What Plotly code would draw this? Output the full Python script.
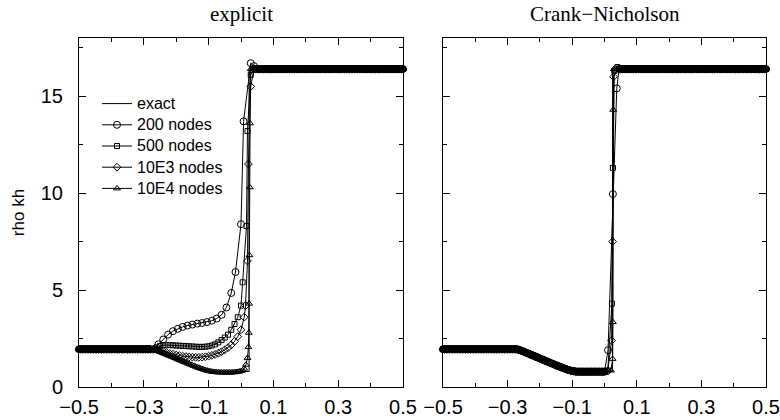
import plotly.graph_objects as go

# ---------------- data ----------------
# shared left state (all runs coincide there)
flat_left_x = [-0.5, -0.495, -0.49, -0.485, -0.48, -0.475, -0.47, -0.465, -0.46, -0.455,
               -0.45, -0.445, -0.44, -0.435, -0.43, -0.425, -0.42, -0.415, -0.41, -0.405,
               -0.4, -0.395, -0.39, -0.385, -0.38, -0.375, -0.37, -0.365, -0.36, -0.355,
               -0.35, -0.345, -0.34, -0.335, -0.33, -0.325, -0.32, -0.315, -0.31, -0.305,
               -0.3, -0.295, -0.29, -0.285, -0.28]
flat_left_y = [1.95, 1.95, 1.95, 1.95, 1.95, 1.95, 1.95, 1.95, 1.95, 1.95,
               1.95, 1.95, 1.95, 1.95, 1.95, 1.95, 1.95, 1.95, 1.95, 1.95,
               1.95, 1.95, 1.95, 1.95, 1.95, 1.95, 1.95, 1.95, 1.95, 1.95,
               1.95, 1.95, 1.95, 1.95, 1.95, 1.95, 1.95, 1.95, 1.95, 1.95,
               1.95, 1.95, 1.95, 1.95, 1.95]
# shared right state
flat_right_x = [0.045, 0.05, 0.055, 0.06, 0.065, 0.07, 0.075, 0.08, 0.085, 0.09,
                0.095, 0.1, 0.105, 0.11, 0.115, 0.12, 0.125, 0.13, 0.135, 0.14,
                0.145, 0.15, 0.155, 0.16, 0.165, 0.17, 0.175, 0.18, 0.185, 0.19,
                0.195, 0.2, 0.205, 0.21, 0.215, 0.22, 0.225, 0.23, 0.235, 0.24,
                0.245, 0.25, 0.255, 0.26, 0.265, 0.27, 0.275, 0.28, 0.285, 0.29,
                0.295, 0.3, 0.305, 0.31, 0.315, 0.32, 0.325, 0.33, 0.335, 0.34,
                0.345, 0.35, 0.355, 0.36, 0.365, 0.37, 0.375, 0.38, 0.385, 0.39,
                0.395, 0.4, 0.405, 0.41, 0.415, 0.42, 0.425, 0.43, 0.435, 0.44,
                0.445, 0.45, 0.455, 0.46, 0.465, 0.47, 0.475, 0.48, 0.485, 0.49,
                0.495, 0.5]
flat_right_y = [16.4, 16.4, 16.4, 16.4, 16.4, 16.4, 16.4, 16.4, 16.4, 16.4,
                16.4, 16.4, 16.4, 16.4, 16.4, 16.4, 16.4, 16.4, 16.4, 16.4,
                16.4, 16.4, 16.4, 16.4, 16.4, 16.4, 16.4, 16.4, 16.4, 16.4,
                16.4, 16.4, 16.4, 16.4, 16.4, 16.4, 16.4, 16.4, 16.4, 16.4,
                16.4, 16.4, 16.4, 16.4, 16.4, 16.4, 16.4, 16.4, 16.4, 16.4,
                16.4, 16.4, 16.4, 16.4, 16.4, 16.4, 16.4, 16.4, 16.4, 16.4,
                16.4, 16.4, 16.4, 16.4, 16.4, 16.4, 16.4, 16.4, 16.4, 16.4,
                16.4, 16.4, 16.4, 16.4, 16.4, 16.4, 16.4, 16.4, 16.4, 16.4,
                16.4, 16.4, 16.4, 16.4, 16.4, 16.4, 16.4, 16.4, 16.4, 16.4,
                16.4, 16.4]

# exact solution
exact_x = [-0.5, -0.27, -0.24, -0.2, -0.16, -0.12, -0.1, 0.025, 0.025, 0.5]
exact_y = [1.95, 1.95, 1.74, 1.46, 1.19, 0.94, 0.82, 0.8, 16.4, 16.4]

# explicit scheme, middle part of each run
exp200_x = [-0.27, -0.255, -0.24, -0.225, -0.21, -0.195, -0.18, -0.165, -0.15, -0.135,
            -0.12, -0.105, -0.09, -0.075, -0.06, -0.045, -0.03, -0.017, 0.0, 0.008,
            0.03, 0.04]
exp200_y = [1.95, 2.2, 2.45, 2.7, 2.88, 3.0, 3.1, 3.17, 3.22, 3.27,
            3.3, 3.35, 3.42, 3.53, 3.72, 4.1, 4.85, 5.93, 8.4, 13.7,
            16.7, 16.55]

exp500_x = [-0.27, -0.26, -0.25, -0.24, -0.23, -0.22, -0.21, -0.2, -0.19, -0.18,
            -0.17, -0.16, -0.15, -0.14, -0.13, -0.12, -0.11, -0.1, -0.09, -0.08,
            -0.07, -0.06, -0.05, -0.04, -0.03, -0.02, -0.01, 0.0, 0.005, 0.017,
            0.02, 0.03, 0.04]
exp500_y = [1.95, 2.05, 2.12, 2.15, 2.16, 2.16, 2.15, 2.14, 2.13, 2.12,
            2.11, 2.1, 2.09, 2.08, 2.07, 2.07, 2.08, 2.1, 2.14, 2.2,
            2.3, 2.42, 2.55, 2.7, 2.95, 3.25, 3.6, 4.2, 5.4, 8.3,
            13.2, 16.1, 16.45]

exp1e3_x = [-0.27, -0.26, -0.25, -0.24, -0.23, -0.22, -0.21, -0.2, -0.19, -0.18,
            -0.17, -0.16, -0.15, -0.14, -0.13, -0.12, -0.11, -0.1, -0.09, -0.08,
            -0.07, -0.06, -0.05, -0.04, -0.03, -0.02, -0.01, 0.0, 0.01, 0.014,
            0.02, 0.023, 0.03, 0.04]
exp1e3_y = [1.95, 1.93, 1.88, 1.83, 1.78, 1.73, 1.69, 1.65, 1.62, 1.59,
            1.57, 1.55, 1.54, 1.53, 1.53, 1.54, 1.56, 1.59, 1.63, 1.68,
            1.74, 1.82, 1.92, 2.03, 2.17, 2.35, 2.6, 2.95, 3.6, 4.2,
            6.5, 11.5, 15.5, 16.4]

exp1e4_x = [-0.275, -0.27, -0.265, -0.26, -0.255, -0.25, -0.245, -0.24, -0.235, -0.23,
            -0.225, -0.22, -0.215, -0.21, -0.205, -0.2, -0.195, -0.19, -0.185, -0.18,
            -0.175, -0.17, -0.165, -0.16, -0.155, -0.15, -0.145, -0.14, -0.135, -0.13,
            -0.125, -0.12, -0.115, -0.11, -0.105, -0.1, -0.095, -0.09, -0.085, -0.08,
            -0.075, -0.07, -0.065, -0.06, -0.055, -0.05, -0.045, -0.04, -0.035, -0.03,
            -0.025, -0.02, -0.015, -0.01, -0.005, 0.0,
            0.005, 0.01, 0.015, 0.02, 0.023, 0.024, 0.025, 0.026, 0.027, 0.028,
            0.03, 0.035, 0.04]
exp1e4_y = [1.95, 1.94, 1.92, 1.89, 1.85, 1.82, 1.78, 1.75, 1.71, 1.68,
            1.64, 1.61, 1.57, 1.54, 1.5, 1.47, 1.43, 1.4, 1.36, 1.33,
            1.29, 1.26, 1.22, 1.19, 1.15, 1.12, 1.09, 1.05, 1.02, 0.99,
            0.96, 0.93, 0.9, 0.87, 0.85, 0.83, 0.81, 0.79, 0.78, 0.77,
            0.76, 0.76, 0.75, 0.75, 0.75, 0.75, 0.75, 0.75, 0.75, 0.75,
            0.76, 0.76, 0.77, 0.78, 0.8, 0.82,
            0.86, 0.95, 1.15, 1.5, 2.06, 2.8, 4.3, 6.8, 10.3, 13.6,
            16.4, 16.4, 16.4]

# Crank-Nicholson: smooth part shared by all runs (they coincide)
cn_x = [-0.275, -0.27, -0.265, -0.26, -0.255, -0.25, -0.245, -0.24, -0.235, -0.23,
        -0.225, -0.22, -0.215, -0.21, -0.205, -0.2, -0.195, -0.19, -0.185, -0.18,
        -0.175, -0.17, -0.165, -0.16, -0.155, -0.15, -0.145, -0.14, -0.135, -0.13,
        -0.125, -0.12, -0.115, -0.11, -0.105, -0.1, -0.095, -0.09, -0.085, -0.08,
        -0.075, -0.07, -0.065, -0.06, -0.055, -0.05, -0.045, -0.04, -0.035, -0.03,
        -0.025, -0.02, -0.015, -0.01, -0.005, 0.0]
cn_y = [1.95, 1.94, 1.92, 1.89, 1.86, 1.82, 1.79, 1.75, 1.72, 1.68,
        1.65, 1.61, 1.58, 1.54, 1.51, 1.47, 1.44, 1.4, 1.37, 1.33,
        1.3, 1.26, 1.23, 1.19, 1.16, 1.12, 1.09, 1.06, 1.02, 0.99,
        0.96, 0.93, 0.9, 0.87, 0.85, 0.83, 0.81, 0.8, 0.79, 0.79,
        0.79, 0.79, 0.79, 0.79, 0.79, 0.79, 0.79, 0.79, 0.79, 0.79,
        0.79, 0.79, 0.79, 0.79, 0.79, 0.79]
# shock region of each CN run
cn200_x = [0.011, 0.026, 0.038]
cn200_y = [1.9, 9.95, 15.4]
cn500_x = [0.01, 0.023, 0.026, 0.03, 0.04]
cn500_y = [0.85, 4.3, 11.3, 16.3, 16.5]
cn1e3_x = [0.01, 0.022, 0.025, 0.028, 0.04]
cn1e3_y = [0.82, 2.4, 7.5, 16.0, 16.45]
cn1e4_x = [0.02, 0.025, 0.026, 0.027, 0.029, 0.04]
cn1e4_y = [0.85, 1.45, 3.35, 14.3, 16.4, 16.4]

exact_name = "exact"
series_names = ["200 nodes", "500 nodes", "10E3 nodes", "10E4 nodes"]
panel_titles = ["explicit", "Crank\u2212Nicholson"]
y_title = "rho kh"

# ---------------- styling ----------------
symbols = ["circle-open", "square-open", "diamond-open", "triangle-up-open"]
sizes = [7, 5, 6, 6]
SANS = "Liberation Sans, Arial, sans-serif"
SERIF = "Liberation Serif, Times New Roman, serif"


def legend_label(s):
    # slightly larger text than the legend's row pitch would give
    return '<span style="font-size:16px">' + s + '</span>'


explicit_runs = [(exp200_x, exp200_y), (exp500_x, exp500_y),
                 (exp1e3_x, exp1e3_y), (exp1e4_x, exp1e4_y)]
cn_runs = [(cn200_x, cn200_y), (cn500_x, cn500_y),
           (cn1e3_x, cn1e3_y), (cn1e4_x, cn1e4_y)]

fig = go.Figure()

for panel, runs in enumerate([explicit_runs, cn_runs]):
    xa = "x" if panel == 0 else "x2"
    ya = "y" if panel == 0 else "y2"
    fig.add_trace(go.Scatter(
        x=exact_x, y=exact_y, mode="lines", name=legend_label(exact_name),
        line=dict(color="black", width=1), xaxis=xa, yaxis=ya,
        showlegend=(panel == 0), cliponaxis=False))
    for i, (mx, my) in enumerate(runs):
        if panel == 0:
            xs = flat_left_x + mx + flat_right_x
            ys = flat_left_y + my + flat_right_y
        else:
            xs = flat_left_x + cn_x + mx + flat_right_x
            ys = flat_left_y + cn_y + my + flat_right_y
        fig.add_trace(go.Scatter(
            x=xs, y=ys, mode="lines+markers", name=legend_label(series_names[i]),
            line=dict(color="black", width=1),
            marker=dict(symbol=symbols[i], size=sizes[i], color="black",
                        line=dict(color="black", width=1)),
            xaxis=xa, yaxis=ya, showlegend=(panel == 0), cliponaxis=False))

common_x = dict(range=[-0.5, 0.5], tick0=-0.5, dtick=0.2, ticks="inside", ticklen=7,
                tickwidth=1, tickcolor="black", showline=True, linecolor="black",
                linewidth=1, mirror="ticks", showgrid=False, zeroline=False,
                automargin=False,
                tickfont=dict(family=SANS, size=20, color="black"),
                ticklabelstandoff=2,
                minor=dict(dtick=0.1, tick0=-0.5, ticks="inside", ticklen=4,
                           tickcolor="black", tickwidth=1, showgrid=False))
common_y = dict(range=[0, 18], tick0=0, dtick=5, ticks="inside", ticklen=7,
                tickwidth=1, tickcolor="black", showline=True, linecolor="black",
                linewidth=1, mirror="ticks", showgrid=False, zeroline=False,
                automargin=False,
                tickfont=dict(family=SANS, size=20, color="black"),
                minor=dict(dtick=2.5, tick0=0, ticks="inside", ticklen=4,
                           tickcolor="black", tickwidth=1, showgrid=False))

ydom = [33 / 420, 382 / 420]
fig.update_layout(
    width=780, height=420,
    margin=dict(l=0, r=0, t=0, b=0),
    paper_bgcolor="white", plot_bgcolor="white",
    xaxis=dict(domain=[79 / 780, 403 / 780], anchor="y", **common_x),
    xaxis2=dict(domain=[443 / 780, 766 / 780], anchor="y2", **common_x),
    yaxis=dict(domain=ydom, anchor="x", ticklabelstandoff=11,
               title=dict(text=y_title, font=dict(family=SANS, size=17, color="black"),
                          standoff=11),
               **common_y),
    yaxis2=dict(domain=ydom, anchor="x2", showticklabels=False, **common_y),
    legend=dict(x=97 / 780, y=1 - 88 / 420, xanchor="left", yanchor="top",
                bgcolor="rgba(0,0,0,0)", borderwidth=0,
                font=dict(family=SANS, size=14, color="black"),
                tracegroupgap=0),
    showlegend=True,
    annotations=[
        dict(text=panel_titles[0], x=241 / 780, y=1 - 14 / 420, xref="paper", yref="paper",
             xanchor="center", yanchor="middle", showarrow=False,
             font=dict(family=SERIF, size=21, color="black")),
        dict(text=panel_titles[1], x=604.5 / 780, y=1 - 14 / 420, xref="paper", yref="paper",
             xanchor="center", yanchor="middle", showarrow=False,
             font=dict(family=SERIF, size=21, color="black")),
    ],
)

fig.write_html("out.html")
